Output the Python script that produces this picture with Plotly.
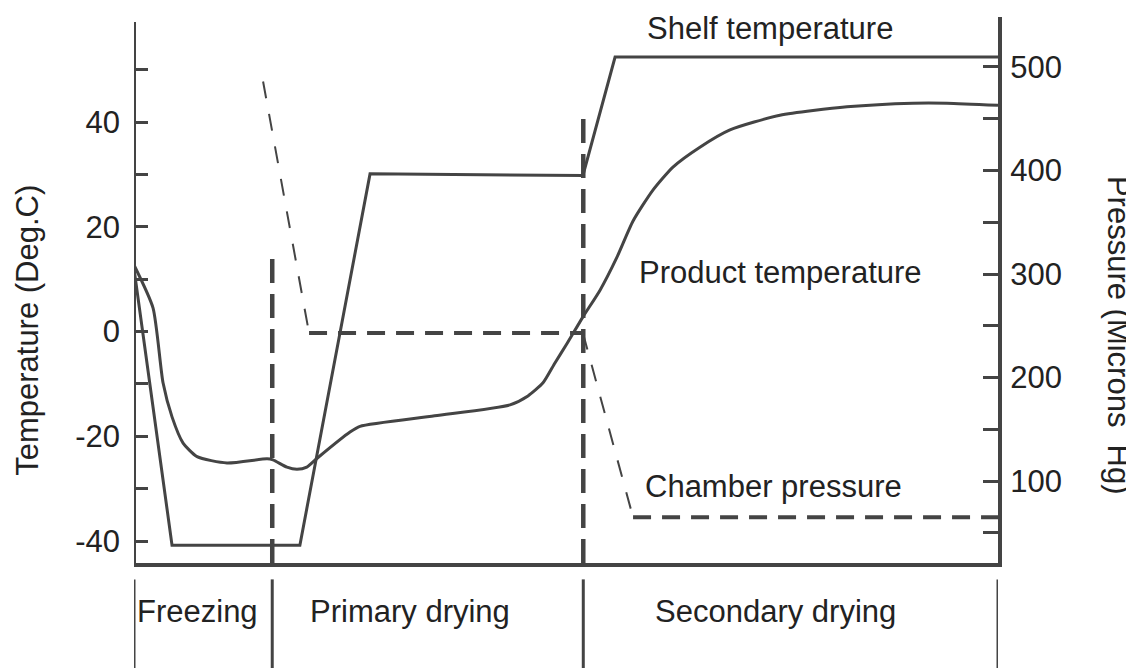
import plotly.graph_objects as go

# time axis in arbitrary units (0..50), phase boundaries
phase_edges = [0, 8, 26, 50]
phase_names = ["Freezing", "Primary drying", "Secondary drying"]
phase_label_t = [3.7, 16.0, 37.1]

# shelf temperature (deg C)
shelf_t = [0, 2.2, 9.6, 13.66, 25.98, 27.84, 50]
shelf_temp = [12, -40.8, -40.8, 30.1, 29.8, 52.4, 52.4]

# product temperature (deg C)
prod_t = [0, 1.1, 1.68, 2.2, 2.84, 3.65, 5.38, 7.7, 8.04, 8.85, 9.43, 10.0, 10.6,
          12.5, 13.08, 17.4, 21.76, 22.8, 23.67, 24.36, 25.06, 25.98, 26.97, 27.95,
          28.88, 30.03, 31.19, 32.75, 34.49, 37.38, 41.26, 45.08, 47.05, 50]
prod_temp = [12.7, 4.5, -9.8, -16.3, -21.3, -23.9, -25.1, -24.3, -24.5, -25.9, -26.3,
             -25.9, -24.2, -19.2, -18.1, -16.1, -14.0, -12.3, -9.8, -6.0, -2.3, 2.8,
             7.9, 14.2, 21.1, 27.0, 31.4, 35.2, 38.5, 41.3, 42.9, 43.6, 43.6, 43.2]

# chamber pressure (microns Hg)
press_t = [7.47, 10.13, 25.98, 28.88, 50]
press_val = [486, 243, 243, 65, 65]

temp_ticks = [-40, -30, -20, -10, 0, 10, 20, 30, 40, 50]
temp_labels = ["-40", "", "-20", "", "0", "", "20", "", "40", ""]
press_ticks = [50, 100, 150, 200, 250, 300, 350, 400, 450, 500]
press_labels = ["", "100", "", "200", "", "300", "", "400", "", "500"]

LINE = "#444444"
TXT = "#222222"
FONT = "Liberation Sans, Arial, sans-serif"
FS = 31

fig = go.Figure()

fig.add_trace(go.Scatter(x=shelf_t, y=shelf_temp, mode="lines",
                         line=dict(color=LINE, width=3), yaxis="y"))
fig.add_trace(go.Scatter(x=prod_t, y=prod_temp, mode="lines",
                         line=dict(color=LINE, width=3, shape="spline", smoothing=0.6),
                         yaxis="y"))

# pressure: sloped parts thin dashes, flat parts heavy dashes
for i in range(len(press_t) - 1):
    flat = press_val[i] == press_val[i + 1]
    fig.add_trace(go.Scatter(
        x=press_t[i:i + 2], y=press_val[i:i + 2], mode="lines", yaxis="y2",
        line=dict(color=LINE, width=4 if flat else 2,
                  dash="18px,11px" if flat else "17px,16px")))

shapes = []
# left axis line
shapes.append(dict(type="line", xref="x", yref="y", x0=0, x1=0, y0=-44.2, y1=59.1,
                   line=dict(color=LINE, width=4)))
# phase boundary dashed lines inside the plot
shapes.append(dict(type="line", xref="x", yref="y", x0=phase_edges[1], x1=phase_edges[1],
                   y0=-44.2, y1=14.6, line=dict(color=LINE, width=4.5, dash="24px,11px")))
shapes.append(dict(type="line", xref="x", yref="y", x0=phase_edges[2], x1=phase_edges[2],
                   y0=-44.2, y1=41.3, line=dict(color=LINE, width=4.5, dash="24px,11px")))
# phase dividers below the plot
for e in phase_edges:
    shapes.append(dict(type="line", xref="x", yref="paper", x0=e, x1=e, y0=-0.03, y1=-0.25,
                       line=dict(color=LINE, width=3)))

annotations = []
for name, t in zip(phase_names, phase_label_t):
    annotations.append(dict(x=t, y=-0.0897, xref="x", yref="paper", text=name,
                            xanchor="center", yanchor="middle", showarrow=False,
                            font=dict(size=FS, color=TXT, family=FONT)))
for text, t, v in [("Shelf temperature", 36.8, 57.9),
                   ("Product temperature", 37.4, 11.2),
                   ("Chamber pressure", 37.0, -29.5)]:
    annotations.append(dict(x=t, y=v, xref="x", yref="y", text=text, showarrow=False,
                            xanchor="center", yanchor="middle",
                            font=dict(size=FS, color=TXT, family=FONT)))
annotations.append(dict(x=-0.1227, y=0.427, xref="paper", yref="paper",
                        text="Temperature (Deg.C)", textangle=-90, showarrow=False,
                        xanchor="center", yanchor="middle",
                        font=dict(size=FS, color=TXT, family=FONT)))
annotations.append(dict(x=1.139, y=0.4176, xref="paper", yref="paper",
                        text="Pressure (Microns\u00a0 Hg)", textangle=90, showarrow=False,
                        xanchor="center", yanchor="middle",
                        font=dict(size=FS, color=TXT, family=FONT)))

fig.update_layout(
    width=1134, height=668,
    # page body adds 8px offset; compensate so plot area sits at x 134..998, y 17..563
    margin=dict(l=126, r=144, t=9, b=113),
    paper_bgcolor="white", plot_bgcolor="white",
    showlegend=False,
    font=dict(family=FONT, size=FS, color=TXT),
    xaxis=dict(range=[0, 50], showgrid=False, zeroline=False, showticklabels=False,
               ticks="", showline=True, linecolor=LINE, linewidth=4),
    yaxis=dict(range=[-44.2, 60.05], showgrid=False, zeroline=False, showline=False,
               tickvals=temp_ticks, ticktext=temp_labels, ticks="inside", ticklen=14,
               tickwidth=3, tickcolor=LINE, ticklabelstandoff=13),
    yaxis2=dict(range=[20.8, 548.3], overlaying="y", side="right", showgrid=False,
                zeroline=False, showline=True, linecolor=LINE, linewidth=4,
                tickvals=press_ticks, ticktext=press_labels, ticks="inside", ticklen=15,
                tickwidth=3, tickcolor=LINE, ticklabelstandoff=2),
    shapes=shapes,
    annotations=annotations,
)

fig.write_html("out.html")
